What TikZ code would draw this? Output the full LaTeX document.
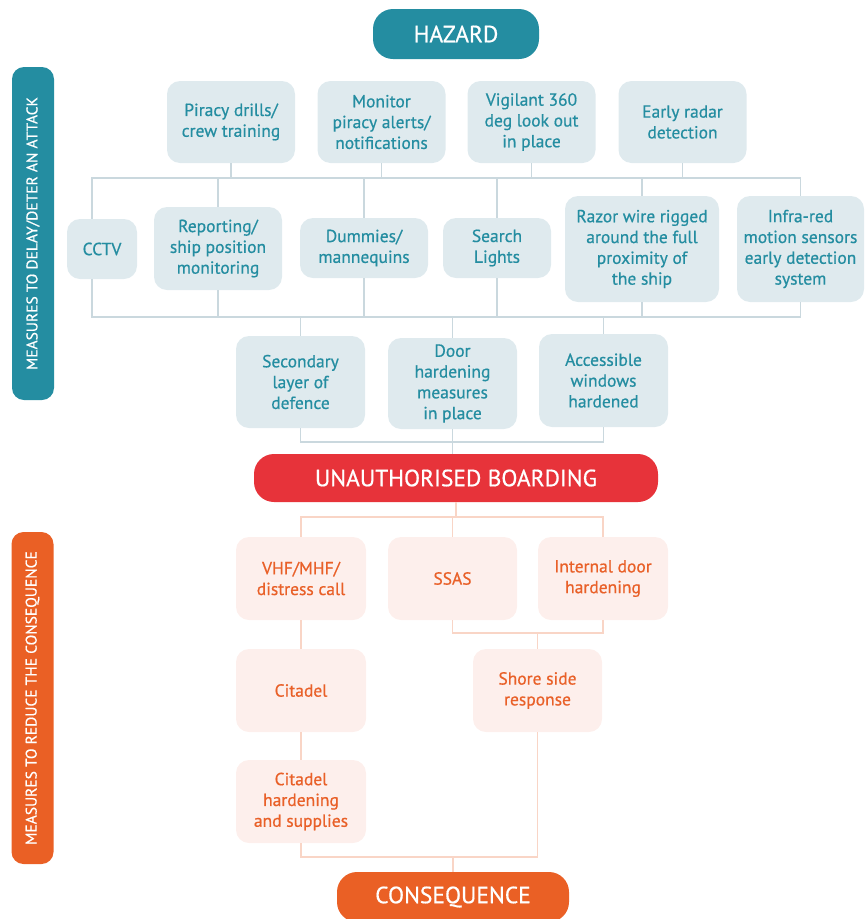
\documentclass[tikz,border=0pt]{standalone}
\usepackage{fontspec}
\setmainfont{PT Sans}[FakeBold=0.6]
\usetikzlibrary{positioning}

\definecolor{hazardTeal}{RGB}{36,141,161}
\definecolor{measureFill}{RGB}{223,234,238}
\definecolor{measureLine}{RGB}{202,216,222}
\definecolor{boardRed}{RGB}{231,51,58}
\definecolor{conseqOrange}{RGB}{234,96,37}
\definecolor{reduceFill}{RGB}{253,239,236}
\definecolor{reduceLine}{RGB}{249,213,198}
\definecolor{reduceText}{RGB}{233,96,40}

\tikzset{
  header/.style={rounded corners=20pt, text=white, inner sep=0pt,
    font=\fontsize{23.5}{26}\selectfont},
  measure/.style={fill=measureFill, text=hazardTeal, rounded corners=13pt,
    align=center, inner sep=0pt, font=\fontsize{17.5}{20.8}\selectfont},
  reduce/.style={fill=reduceFill, text=reduceText, rounded corners=13pt,
    align=center, inner sep=0pt, font=\fontsize{17.5}{20.8}\selectfont},
  sideBar/.style={rounded corners=12pt, text=white, rotate=90, inner sep=0pt,
    minimum height=42pt, font=\fontsize{15.5}{18}\selectfont},
  mLine/.style={draw=measureLine, line width=1.5pt},
  rLine/.style={draw=reduceLine, line width=1.5pt}
}

\begin{document}
\begin{tikzpicture}[x=1pt,y=-1pt]
      \useasboundingbox (0,0) rectangle (865,919);
      %side bars
      \node[sideBar, fill=hazardTeal, minimum width=333pt] (delayBar) at (33,233.5) {MEASURES TO DELAY/DETER AN ATTACK};
      \node[sideBar, fill=conseqOrange, minimum width=332pt] (reduceBar) at (32.5,698) {MEASURES TO REDUCE THE CONSEQUENCE};
      %headers
      \node[header, fill=hazardTeal, minimum width=166pt, minimum height=50pt] (hazard) at (456,34) {HAZARD};
      \node[header, fill=boardRed, minimum width=404pt, minimum height=48pt] (boarding) at (456,478) {UNAUTHORISED BOARDING};
      \node[header, fill=conseqOrange, minimum width=232pt, minimum height=50pt] (consequence) at (453,897) {CONSEQUENCE};
      %first row
      \node[measure, minimum width=128pt, minimum height=82pt] (piracyDrills) at (231,122) {Piracy drills/\\crew training};
      \node[measure, minimum width=128pt, minimum height=82pt] (monitorAlerts) at (381.5,122) {Monitor\\piracy alerts/\\notifications};
      \node[measure, minimum width=128pt, minimum height=82pt] (lookOut) at (531.5,122) {Vigilant 360\\deg look out\\in place};
      \node[measure, minimum width=128pt, minimum height=82pt] (earlyRadar) at (682.5,122) {Early radar\\detection};
      %second row
      \node[measure, minimum width=70pt, minimum height=60pt] (cctv) at (102,249) {CCTV};
      \node[measure, minimum width=128pt, minimum height=83pt] (reporting) at (218,248.5) {Reporting/\\ship position\\monitoring};
      \node[measure, minimum width=128pt, minimum height=60pt] (dummies) at (364,248) {Dummies/\\mannequins};
      \node[measure, minimum width=108pt, minimum height=60pt] (searchLights) at (497,248) {Search\\Lights};
      \node[measure, minimum width=154pt, minimum height=106pt] (razorWire) at (642,249) {Razor wire rigged\\around the full\\proximity of\\the ship};
      \node[measure, minimum width=127pt, minimum height=106pt] (infraRed) at (800.5,249) {Infra-red\\motion sensors\\early detection\\system};
      %third row
      \node[measure, minimum width=129pt, minimum height=92pt] (secondLayer) at (300.5,382) {Secondary\\layer of\\defence};
      \node[measure, minimum width=129pt, minimum height=91pt] (doorHard) at (452.5,383.5) {Door\\hardening\\measures\\in place};
      \node[measure, minimum width=129pt, minimum height=93pt] (windowsHard) at (603.5,380.5) {Accessible\\windows\\hardened};
      %reducing measures
      \node[reduce, minimum width=130pt, minimum height=83pt] (distressCall) at (301,578.5) {VHF/MHF/\\distress call};
      \node[reduce, minimum width=129pt, minimum height=83pt] (ssas) at (452.5,578.5) {SSAS};
      \node[reduce, minimum width=130pt, minimum height=83pt] (internalDoor) at (603,578.5) {Internal door\\hardening};
      \node[reduce, minimum width=130pt, minimum height=83pt] (citadel) at (301,690.5) {Citadel};
      \node[reduce, minimum width=129pt, minimum height=83pt] (shoreSide) at (537.5,690.5) {Shore side\\response};
      \node[reduce, minimum width=130pt, minimum height=83pt] (citadelHard) at (301,801.5) {Citadel\\hardening\\and supplies};
      %bus lines
      \coordinate (topBus) at (92,178);
      \coordinate (midBus) at (92,317);
      \coordinate (lowBus) at (0,442);
      \coordinate (boardBus) at (0,517);
      \coordinate (shoreBus) at (0,633);
      \coordinate (conseqBus) at (0,857);
      \draw[mLine] (topBus |- cctv.north) -- (topBus) -- (topBus -| infraRed.north) -- (infraRed.north);
      \foreach \n in {piracyDrills,monitorAlerts,lookOut,earlyRadar}
        \draw[mLine] (\n.south) -- (\n.south |- topBus);
      \foreach \n in {reporting,dummies,searchLights,razorWire}
        \draw[mLine] (\n.north) -- (\n.north |- topBus);
      \draw[mLine] (midBus |- cctv.south) -- (midBus) -- (midBus -| infraRed.south) -- (infraRed.south);
      \foreach \n in {reporting,dummies,searchLights,razorWire}
        \draw[mLine] (\n.south) -- (\n.south |- midBus);
      \foreach \n in {secondLayer,doorHard,windowsHard}
        \draw[mLine] (\n.north) -- (\n.north |- midBus);
      \draw[mLine] (secondLayer.south) -- (secondLayer.south |- lowBus) -- (windowsHard.south |- lowBus) -- (windowsHard.south);
      \draw[mLine] (doorHard.south) -- (doorHard.south |- boarding.north);
      %consequence side
      \draw[rLine] (boarding.south) -- (boarding.south |- boardBus);
      \draw[rLine] (distressCall.north) -- (distressCall.north |- boardBus) -- (internalDoor.north |- boardBus) -- (internalDoor.north);
      \draw[rLine] (ssas.north) -- (ssas.north |- boardBus);
      \draw[rLine] (ssas.south) -- (ssas.south |- shoreBus) -- (internalDoor.south |- shoreBus) -- (internalDoor.south);
      \draw[rLine] (shoreSide.north) -- (shoreSide.north |- shoreBus);
      \draw[rLine] (distressCall) -- (citadel);
      \draw[rLine] (citadel) -- (citadelHard);
      \draw[rLine] (citadelHard.south) -- (citadelHard.south |- conseqBus) -- (shoreSide.south |- conseqBus) -- (shoreSide.south);
      \draw[rLine] (consequence.north) -- (consequence.north |- conseqBus);
\end{tikzpicture}
\end{document}
